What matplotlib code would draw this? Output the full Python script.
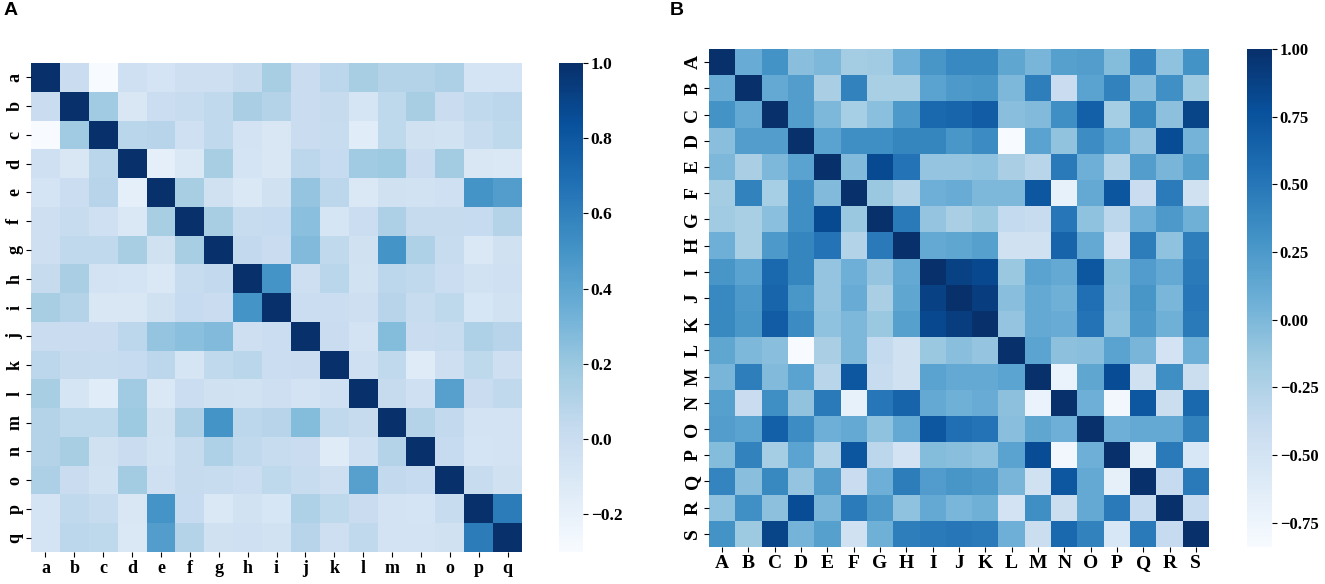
import numpy as np
import matplotlib
matplotlib.use("Agg")
import matplotlib.pyplot as plt

labels_a = list("abcdefghijklmnopq")
labels_b = list("ABCDEFGHIJKLMNOPQRS")

# panel A, correlation matrix (rows a..q)
corr_a = [
    [1.00, 0.00, -0.30, -0.03, -0.07, -0.02, -0.02, 0.02, 0.15, 0.00, 0.07, 0.15, 0.10, 0.10, 0.13, -0.07, -0.07],
    [0.00, 1.00, 0.18, -0.10, -0.01, 0.01, 0.05, 0.14, 0.10, 0.00, 0.02, -0.08, 0.06, 0.15, 0.00, 0.05, 0.07],
    [-0.30, 0.18, 1.00, 0.08, 0.09, -0.03, 0.05, -0.06, -0.10, 0.00, 0.01, -0.15, 0.06, -0.04, -0.05, 0.01, 0.06],
    [-0.03, -0.10, 0.08, 1.00, -0.18, -0.11, 0.15, -0.07, -0.10, 0.07, 0.03, 0.18, 0.19, 0.00, 0.17, -0.10, -0.11],
    [-0.07, -0.01, 0.09, -0.18, 1.00, 0.15, -0.04, -0.11, -0.04, 0.22, 0.07, -0.11, -0.04, -0.05, -0.03, 0.50, 0.45],
    [-0.02, 0.01, -0.03, -0.11, 0.15, 1.00, 0.15, 0.01, 0.03, 0.25, -0.08, -0.01, 0.13, 0.02, 0.02, 0.03, 0.10],
    [-0.02, 0.05, 0.05, 0.15, -0.04, 0.15, 1.00, 0.04, 0.00, 0.28, 0.05, -0.04, 0.50, 0.12, 0.01, -0.11, -0.04],
    [0.02, 0.14, -0.06, -0.07, -0.11, 0.01, 0.04, 1.00, 0.50, -0.02, 0.08, -0.05, 0.07, 0.05, -0.01, -0.05, -0.03],
    [0.15, 0.10, -0.10, -0.10, -0.04, 0.03, 0.00, 0.50, 1.00, -0.01, -0.01, -0.02, 0.09, 0.01, 0.06, -0.09, -0.05],
    [0.00, 0.00, 0.00, 0.07, 0.22, 0.25, 0.28, -0.02, -0.01, 1.00, 0.00, -0.06, 0.27, 0.00, 0.01, 0.12, 0.09],
    [0.07, 0.02, 0.01, 0.03, 0.07, -0.08, 0.05, 0.08, -0.01, 0.00, 1.00, -0.03, 0.05, -0.14, -0.02, 0.06, -0.02],
    [0.15, -0.08, -0.15, 0.18, -0.11, -0.01, -0.04, -0.05, -0.02, -0.06, -0.03, 1.00, 0.02, -0.03, 0.43, 0.00, 0.05],
    [0.10, 0.06, 0.06, 0.19, -0.04, 0.13, 0.50, 0.07, 0.09, 0.27, 0.05, 0.02, 1.00, 0.10, 0.04, -0.06, -0.06],
    [0.10, 0.15, -0.04, 0.00, -0.05, 0.02, 0.12, 0.05, 0.01, 0.00, -0.14, -0.03, 0.10, 1.00, 0.03, -0.07, -0.06],
    [0.13, 0.00, -0.05, 0.17, -0.03, 0.02, 0.01, -0.01, 0.06, 0.01, -0.02, 0.43, 0.04, 0.03, 1.00, 0.01, -0.04],
    [-0.07, 0.05, 0.01, -0.10, 0.50, 0.03, -0.11, -0.05, -0.09, 0.12, 0.06, 0.00, -0.06, -0.07, 0.01, 1.00, 0.62],
    [-0.07, 0.07, 0.06, -0.11, 0.45, 0.10, -0.04, -0.03, -0.05, 0.09, -0.02, 0.05, -0.06, -0.06, -0.04, 0.62, 1.00],
]

# panel B, correlation matrix (rows A..S)
corr_b = [
    [1.00, 0.10, 0.30, -0.05, 0.00, -0.18, -0.17, 0.07, 0.28, 0.38, 0.37, 0.15, 0.02, 0.20, 0.22, -0.03, 0.41, -0.08, 0.30],
    [0.10, 1.00, 0.12, 0.22, -0.22, 0.42, -0.21, -0.21, 0.18, 0.25, 0.27, 0.00, 0.45, -0.41, 0.18, 0.42, -0.05, 0.32, -0.15],
    [0.30, 0.12, 1.00, 0.22, 0.00, -0.20, -0.06, 0.25, 0.60, 0.62, 0.69, -0.05, -0.02, 0.33, 0.66, -0.19, 0.37, -0.07, 0.86],
    [-0.05, 0.22, 0.22, 1.00, 0.18, 0.33, 0.33, 0.40, 0.40, 0.27, 0.35, -0.84, 0.18, -0.09, 0.34, 0.17, -0.10, 0.80, 0.03],
    [0.00, -0.22, 0.00, 0.18, 1.00, -0.02, 0.82, 0.52, -0.10, -0.10, -0.08, -0.22, -0.30, 0.48, 0.07, -0.27, 0.22, 0.02, 0.20],
    [-0.18, 0.42, -0.20, 0.33, -0.02, 1.00, -0.13, -0.27, 0.07, 0.10, 0.00, 0.00, 0.72, -0.69, 0.12, 0.73, -0.41, 0.47, -0.48],
    [-0.17, -0.21, -0.06, 0.33, 0.82, -0.13, 1.00, 0.48, -0.10, -0.22, -0.13, -0.37, -0.40, 0.49, -0.08, -0.32, 0.07, 0.25, 0.06],
    [0.07, -0.21, 0.25, 0.40, 0.52, -0.27, 0.48, 1.00, 0.12, 0.15, 0.20, -0.48, -0.48, 0.63, 0.12, -0.50, 0.46, -0.08, 0.45],
    [0.28, 0.18, 0.60, 0.40, -0.10, 0.07, -0.10, 0.12, 1.00, 0.88, 0.83, -0.13, 0.18, 0.12, 0.72, -0.03, 0.23, 0.12, 0.48],
    [0.38, 0.25, 0.62, 0.27, -0.10, 0.10, -0.22, 0.15, 0.88, 1.00, 0.90, -0.05, 0.12, 0.06, 0.55, -0.05, 0.28, 0.01, 0.49],
    [0.37, 0.27, 0.69, 0.35, -0.08, 0.00, -0.13, 0.20, 0.83, 0.90, 1.00, -0.10, 0.12, 0.10, 0.52, -0.08, 0.25, 0.06, 0.48],
    [0.15, 0.00, -0.05, -0.84, -0.22, 0.00, -0.37, -0.48, -0.13, -0.05, -0.10, 1.00, 0.17, -0.07, -0.05, 0.18, 0.02, -0.50, 0.07],
    [0.02, 0.45, -0.02, 0.18, -0.30, 0.72, -0.40, -0.48, 0.18, 0.12, 0.12, 0.17, 1.00, -0.72, 0.15, 0.80, -0.48, 0.33, -0.42],
    [0.20, -0.41, 0.33, -0.09, 0.48, -0.69, 0.49, 0.63, 0.12, 0.06, 0.10, -0.07, -0.72, 1.00, 0.07, -0.78, 0.72, -0.42, 0.60],
    [0.22, 0.18, 0.66, 0.34, 0.07, 0.12, -0.08, 0.12, 0.72, 0.55, 0.52, -0.05, 0.15, 0.07, 1.00, 0.07, 0.12, 0.12, 0.42],
    [-0.03, 0.42, -0.19, 0.17, -0.27, 0.73, -0.32, -0.50, -0.03, -0.05, -0.08, 0.18, 0.80, -0.78, 0.07, 1.00, -0.68, 0.48, -0.55],
    [0.41, -0.05, 0.37, -0.10, 0.22, -0.41, 0.07, 0.46, 0.23, 0.28, 0.25, 0.02, -0.48, 0.72, 0.12, -0.68, 1.00, -0.38, 0.48],
    [-0.08, 0.32, -0.07, 0.80, 0.02, 0.47, 0.25, -0.08, 0.12, 0.01, 0.06, -0.50, 0.33, -0.42, 0.12, 0.48, -0.38, 1.00, -0.38],
    [0.30, -0.15, 0.86, 0.03, 0.20, -0.48, 0.06, 0.45, 0.48, 0.49, 0.48, 0.07, -0.42, 0.60, 0.42, -0.55, 0.48, -0.38, 1.00],
]

cbar_ticks_a = [-0.2, 0.0, 0.2, 0.4, 0.6, 0.8, 1.0]
cbar_ticks_b = [-0.75, -0.50, -0.25, 0.00, 0.25, 0.50, 0.75, 1.00]

serif = "Liberation Serif"


def draw_heatmap(ax, cax, data, labels, ticks, tick_fmt, lab_size, cb_size):
    data = np.array(data)
    n = len(labels)
    mesh = ax.pcolormesh(np.arange(n + 1), np.arange(n + 1), data, cmap="Blues",
                         vmin=data.min(), vmax=1.0, linewidth=0)
    ax.set_xlim(0, n)
    ax.set_ylim(n, 0)
    pos = np.arange(n) + 0.5
    ax.set_xticks(pos)
    ax.set_yticks(pos)
    ax.set_xticklabels(labels, fontfamily=serif, fontweight="bold", fontsize=lab_size)
    ax.set_yticklabels(labels, fontfamily=serif, fontweight="bold", fontsize=lab_size,
                       rotation=90, va="center")
    ax.tick_params(length=3.5, width=0.8, pad=2)
    for s in ax.spines.values():
        s.set_visible(False)

    cb = plt.colorbar(mesh, cax=cax)
    cb.outline.set_visible(False)
    cb.set_ticks(ticks)
    cb.set_ticklabels([tick_fmt(t) for t in ticks])
    cax.tick_params(length=3.5, width=0.8, pad=2)
    for t in cax.get_yticklabels():
        t.set_fontfamily(serif)
        t.set_fontweight("bold")
        t.set_fontsize(cb_size)


fig = plt.figure(figsize=(13.25, 5.84), dpi=100)

ax_a = fig.add_axes([31 / 1325, 1 - 552 / 584, 491 / 1325, 489 / 584])
cax_a = fig.add_axes([559 / 1325, 1 - 552 / 584, 24 / 1325, 489 / 584])
ax_b = fig.add_axes([709 / 1325, 1 - 547 / 584, 500 / 1325, 498 / 584])
cax_b = fig.add_axes([1247 / 1325, 1 - 547 / 584, 25 / 1325, 498 / 584])

draw_heatmap(ax_a, cax_a, corr_a, labels_a, cbar_ticks_a,
             lambda t: f"{t:.1f}".replace("-", "\u2212"), 13, 12.5)
draw_heatmap(ax_b, cax_b, corr_b, labels_b, cbar_ticks_b,
             lambda t: f"{t:.2f}".replace("-", "\u2212"), 14, 12)

fig.text(4 / 1325, 1 - 2 / 584, "A", fontfamily="Liberation Sans", fontweight="bold",
         fontsize=14, va="top", ha="left")
fig.text(670 / 1325, 1 - 2 / 584, "B", fontfamily="Liberation Sans", fontweight="bold",
         fontsize=14, va="top", ha="left")

fig.savefig("out.png", dpi=100)
